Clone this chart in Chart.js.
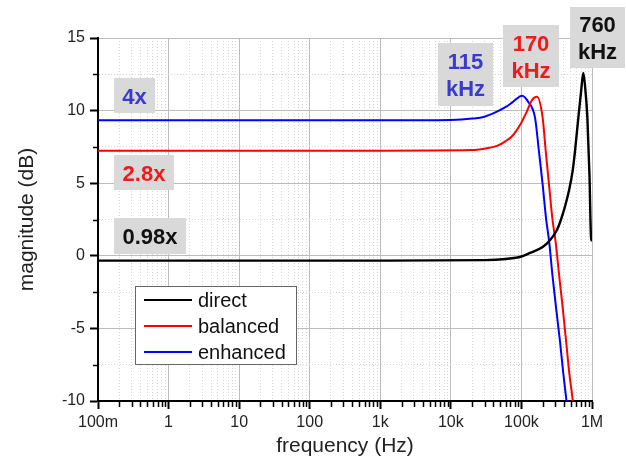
<!DOCTYPE html>
<html>
<head>
<meta charset="utf-8">
<title>magnitude vs frequency</title>
<script src="https://cdn.jsdelivr.net/npm/chart.js@4.4.1/dist/chart.umd.min.js"></script>
<style>
  html, body { margin: 0; padding: 0; background: #fff; }
  #wrap { width: 626px; height: 463px; }
</style>
</head>
<body>
<div id="wrap"><canvas id="chart" width="626" height="463"></canvas></div>
<script>
/* global Chart */

// values (Hz, dB)
const directFreq = [0.1, 1000, 30000, 60000, 100000, 132000, 200000, 257000, 320000, 364000, 420000, 472000, 530000, 574000, 640000, 700000, 753000, 800000, 860000, 922000, 968000, 1000000]
const directMag = [-0.33, -0.33, -0.3, -0.22, -0.05, 0.2, 0.6, 1.1, 1.8, 2.5, 3.5, 4.5, 5.8, 7.2, 9.5, 11.3, 12.6, 11.6, 9.5, 5.5, 1.3, 1.0]

const balancedFreq = [0.1, 1000, 20000, 30000, 45000, 60000, 76000, 95500, 119000, 140000, 165000, 200000, 221000, 246000, 274000, 306000, 345000, 385000, 430000, 477000, 526000, 570000]
const balancedMag = [7.24, 7.24, 7.28, 7.38, 7.57, 7.9, 8.3, 9.0, 9.93, 10.7, 10.95, 9.5, 7.2, 4.9, 2.6, 0.9, -1.5, -3.6, -5.9, -8.1, -9.7, -11.3]

const enhancedFreq = [0.1, 1000, 10000, 20000, 30000, 45000, 60000, 76000, 102000, 125000, 156000, 177000, 200000, 223000, 248000, 276000, 310000, 352000, 392000, 428000, 465000]
const enhancedMag = [9.33, 9.33, 9.36, 9.45, 9.58, 9.93, 10.25, 10.6, 11.03, 10.6, 9.5, 7.2, 4.9, 2.6, 0.9, -1.4, -3.6, -5.9, -8.1, -9.7, -11.3]

const seriesNames = ['direct', 'balanced', 'enhanced']
const seriesColors = ['#000000', '#ff0000', '#0000ff']

const xTickValues = [0.1, 1, 10, 100, 1e3, 1e4, 1e5, 1e6]
const xTickLabels = ['100m', '1', '10', '100', '1k', '10k', '100k', '1M']

// callout boxes: text lines, colour, box in canvas pixels
const callouts = [
  { lines: ['4x'], color: '#3a3acc', box: [114, 78, 41, 35] },
  { lines: ['2.8x'], color: '#ee1b1b', box: [114, 155, 60, 35] },
  { lines: ['0.98x'], color: '#111111', box: [114, 218, 72, 36] },
  { lines: ['115', 'kHz'], color: '#3a3acc', box: [438, 43, 55, 63] },
  { lines: ['170', 'kHz'], color: '#ee1b1b', box: [503, 25, 56, 62] },
  { lines: ['760', 'kHz'], color: '#111111', box: [570, 7, 55, 61] }
]

const FONT = "'Liberation Sans', Arial, sans-serif"

function toPoints (fs, ms) {
  return fs.map((f, i) => ({ x: f, y: ms[i] }))
}

function isDecade (v) {
  const l = Math.log10(v)
  return Math.abs(l - Math.round(l)) < 1e-6
}

function isMajorY (v) {
  return Math.abs(v % 5) < 1e-6
}

const minorTicks = {
  id: 'minorTicks',
  afterDraw (chart) {
    const { ctx, scales: { x, y } } = chart
    ctx.save()
    ctx.strokeStyle = '#000'
    ctx.lineWidth = 1.5
    ctx.beginPath()
    x.ticks.forEach(t => {
      if (isDecade(t.value)) return
      const px = Math.round(x.getPixelForValue(t.value)) + 0.5
      ctx.moveTo(px, y.bottom)
      ctx.lineTo(px, y.bottom + 6)
    })
    y.ticks.forEach(t => {
      if (isMajorY(t.value)) return
      const py = Math.round(y.getPixelForValue(t.value)) + 0.5
      ctx.moveTo(x.left, py)
      ctx.lineTo(x.left - 5, py)
    })
    ctx.stroke()
    ctx.restore()
  }
}

const insetLegend = {
  id: 'insetLegend',
  afterDraw (chart) {
    const { ctx, chartArea } = chart
    const left = chartArea.left + 37
    const top = chartArea.top + 248
    ctx.save()
    ctx.fillStyle = '#fff'
    ctx.fillRect(left, top, 161, 78)
    ctx.strokeStyle = '#666'
    ctx.lineWidth = 1
    ctx.strokeRect(left + 0.5, top + 0.5, 161, 78)
    ctx.font = '20px ' + FONT
    ctx.textBaseline = 'middle'
    chart.data.datasets.forEach((ds, i) => {
      const cy = top + 14 + i * 26
      ctx.strokeStyle = ds.borderColor
      ctx.lineWidth = 2
      ctx.beginPath()
      ctx.moveTo(left + 9, cy)
      ctx.lineTo(left + 57, cy)
      ctx.stroke()
      ctx.fillStyle = '#111'
      ctx.fillText(ds.label, left + 63, cy + 1)
    })
    ctx.restore()
  }
}

const calloutBoxes = {
  id: 'calloutBoxes',
  afterDraw (chart) {
    const { ctx } = chart
    ctx.save()
    ctx.font = 'bold 22px ' + FONT
    ctx.textAlign = 'center'
    ctx.textBaseline = 'middle'
    callouts.forEach(c => {
      const [bx, by, bw, bh] = c.box
      ctx.fillStyle = '#d9d9d9'
      ctx.fillRect(bx, by, bw, bh)
      ctx.fillStyle = c.color
      const lh = 27
      const y0 = by + bh / 2 - (c.lines.length - 1) * lh / 2
      c.lines.forEach((t, i) => ctx.fillText(t, bx + bw / 2, y0 + i * lh + 2))
    })
    ctx.restore()
  }
}

const datasets = [
  toPoints(directFreq, directMag),
  toPoints(balancedFreq, balancedMag),
  toPoints(enhancedFreq, enhancedMag)
].map((pts, i) => ({
  label: seriesNames[i],
  data: pts,
  borderColor: seriesColors[i],
  borderWidth: i === 0 ? 2.4 : 2,
  pointRadius: 0,
  cubicInterpolationMode: 'monotone',
  fill: false
}))

const ctx = document.getElementById('chart').getContext('2d')
new Chart(ctx, {
  type: 'line',
  data: { datasets },
  options: {
    responsive: false,
    animation: false,
    devicePixelRatio: 1,
    layout: { padding: { top: 38, right: 34, left: 0, bottom: 0 } },
    plugins: {
      legend: { display: false },
      tooltip: { enabled: false }
    },
    scales: {
      x: {
        type: 'logarithmic',
        min: 0.1,
        max: 1e6,
        afterBuildTicks (scale) {
          const ticks = []
          for (let d = -1; d < 6; d++) {
            for (let m = 1; m < 10; m++) ticks.push({ value: m * Math.pow(10, d) })
          }
          ticks.push({ value: 1e6 })
          scale.ticks = ticks
        },
        afterFit (scale) { scale.height = 62 },
        ticks: {
          autoSkip: false,
          maxRotation: 0,
          padding: 4,
          color: '#222',
          font: { family: FONT, size: 16 },
          callback (v) {
            const k = xTickValues.findIndex(t => Math.abs(t - v) / t < 1e-6)
            return k >= 0 ? xTickLabels[k] : ''
          }
        },
        grid: {
          color: c => (c.tick && isDecade(c.tick.value)) ? '#bcbcbc' : '#d6d6d6',
          lineWidth: 1,
          tickLength: 8,
          tickWidth: 2,
          tickColor: c => (c.tick && isDecade(c.tick.value)) ? '#000' : 'rgba(0,0,0,0)'
        },
        border: {
          color: '#000',
          width: 2,
          dash: c => (c.tick && !isDecade(c.tick.value)) ? [1, 2] : []
        },
        title: {
          display: true,
          text: 'frequency (Hz)',
          color: '#222',
          font: { family: FONT, size: 21 },
          padding: { top: 0, bottom: 4 }
        }
      },
      y: {
        min: -10,
        max: 15,
        afterFit (scale) { scale.width = 98 },
        ticks: {
          stepSize: 2.5,
          padding: 5,
          color: '#222',
          font: { family: FONT, size: 16 },
          callback: v => isMajorY(v) ? String(v) : ''
        },
        grid: {
          color: c => (c.tick && isMajorY(c.tick.value)) ? '#bcbcbc' : '#d6d6d6',
          lineWidth: 1,
          tickLength: 8,
          tickWidth: 2,
          tickColor: c => (c.tick && isMajorY(c.tick.value)) ? '#000' : 'rgba(0,0,0,0)'
        },
        border: {
          color: '#000',
          width: 2,
          dash: c => (c.tick && !isMajorY(c.tick.value)) ? [1, 2] : []
        },
        title: {
          display: true,
          text: 'magnitude (dB)',
          color: '#222',
          font: { family: FONT, size: 21 },
          padding: { top: 15, bottom: 0 }
        }
      }
    }
  },
  plugins: [minorTicks, insetLegend, calloutBoxes]
})
</script>
</body>
</html>
